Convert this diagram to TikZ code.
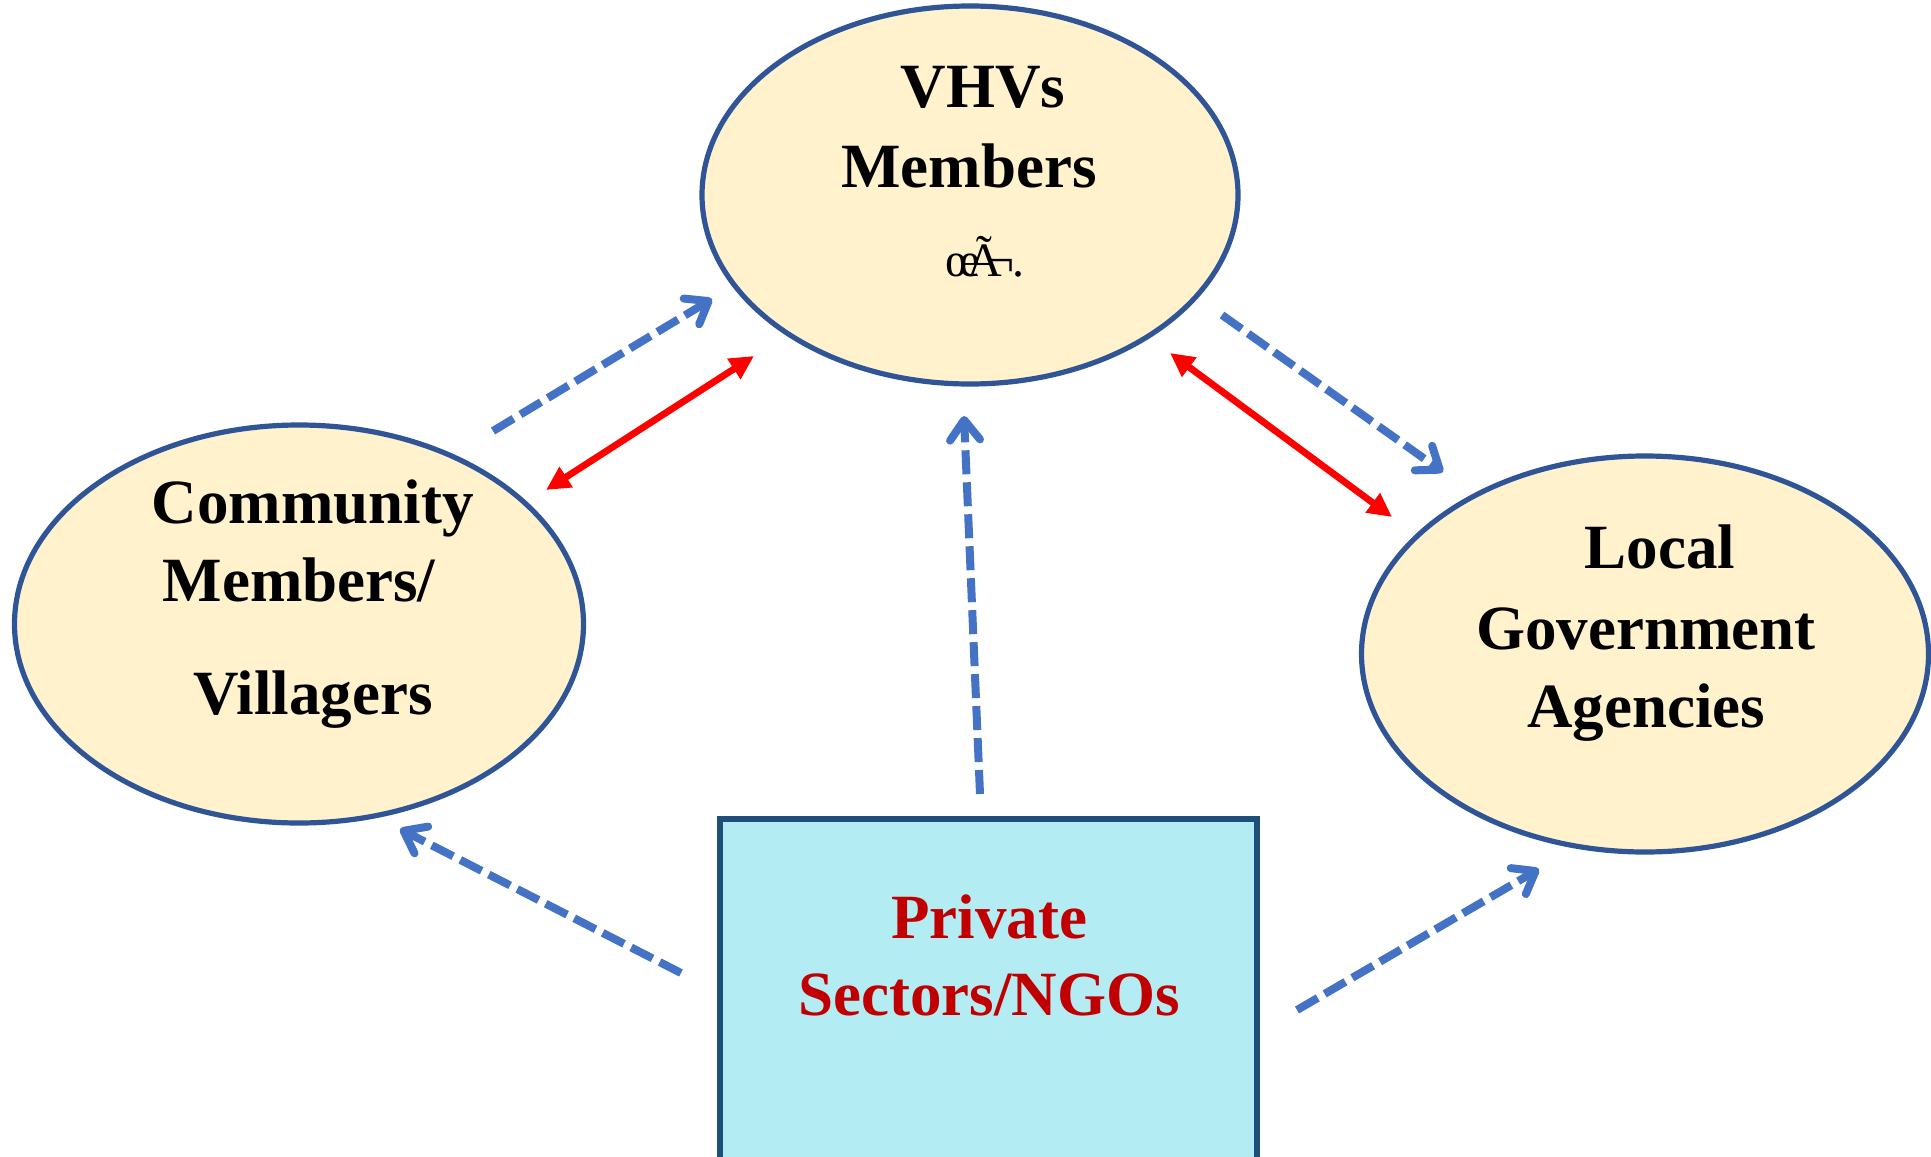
\documentclass[tikz,border=0pt]{standalone}
\usepackage{fontspec}
\setmainfont{Liberation Serif}
\usetikzlibrary{shapes.geometric, arrows.meta, positioning}
\definecolor{mcream}{HTML}{FFF2CC}
\definecolor{mnavy}{HTML}{2F5597}
\definecolor{mdeep}{HTML}{1F4E79}
\definecolor{maqua}{HTML}{B4ECF4}
\definecolor{mflow}{HTML}{4472C4}
\definecolor{mred}{HTML}{FF0000}
\definecolor{mwine}{HTML}{C00000}
\tikzstyle{party} = [ellipse, draw = mnavy, line width = 2.6pt, fill = mcream, inner sep = 0pt]
\tikzstyle{sponsor} = [rectangle, draw = mdeep, line width = 3.2pt, fill = maqua, inner sep = 0pt]
\tikzstyle{caption} = [anchor = base, inner sep = 0pt, font = \fontsize{31.5}{38}\selectfont\bfseries]
\tikzstyle{garble} = [anchor = base, inner sep = 0pt, font = \fontsize{24}{28}\selectfont]
\tikzstyle{link} = [line width = 3.4pt, mred, {Triangle[length=12pt, width=11.5pt]}-{Triangle[length=12pt, width=11.5pt]}]
\tikzstyle{flow} = [line width = 4pt, mflow, dash pattern = on 12pt off 4pt, -{Straight Barb[length=10pt, width=15pt, round]}]

\begin{document}
\begin{tikzpicture}[x = 0.5pt, y = -0.5pt]
  \useasboundingbox (0,0) rectangle (1931,1156);
  % the four parties
  \node (vhv) [party, minimum width = 268pt, minimum height = 189pt] at (970,195) {};
  \node (comm) [party, minimum width = 284.5pt, minimum height = 199pt] at (299,624) {};
  \node (lga) [party, minimum width = 283.5pt, minimum height = 198pt] at (1645,654) {};
  \node (pvt) [sponsor, minimum width = 268.5pt, minimum height = 172pt] at (988.5,991) {};
  % texts
  \node (vhvA) [caption] at (983,108) {VHVs};
  \node (vhvB) [caption] at (969,187) {Members};
  \node (vhvC) [garble] at (985,276) {œ\kern-.28emÃ\kern-.3em¬\kern-.05em.};
  \node (commA) [caption] at (313,523) {Community};
  \node (commB) [caption] at (299,601) {Members/};
  \node (commC) [caption] at (313,714) {Villagers};
  \node (lgaA) [caption] at (1660,568) {Local};
  \node (lgaB) [caption] at (1646,649) {Government};
  \node (lgaC) [caption] at (1646,727) {Agencies};
  \node (pvtA) [caption, text = mwine] at (989,938) {Private};
  \node (pvtB) [caption, text = mwine] at (989,1015) {Sectors/NGOs};
  % free ends of the connectors
  \coordinate (cv1) at (493,431);
  \coordinate (cv2) at (712,299);
  \coordinate (cv3) at (546,490);
  \coordinate (cv4) at (754,356);
  \coordinate (vl1) at (1222,315);
  \coordinate (vl2) at (1443,472);
  \coordinate (vl3) at (1170,353);
  \coordinate (vl4) at (1392,517);
  \coordinate (pv1) at (980,794);
  \coordinate (pv2) at (964,416);
  \coordinate (pc1) at (681,973);
  \coordinate (pc2) at (400,829);
  \coordinate (pl1) at (1297,1010);
  \coordinate (pl2) at (1539,869);
  \draw [flow] (cv1) -- (cv2);
  \draw [link] (cv3) -- (cv4);
  \draw [flow] (vl1) -- (vl2);
  \draw [link] (vl3) -- (vl4);
  \draw [flow] (pv1) -- (pv2);
  \draw [flow] (pc1) -- (pc2);
  \draw [flow] (pl1) -- (pl2);
\end{tikzpicture}
\end{document}
